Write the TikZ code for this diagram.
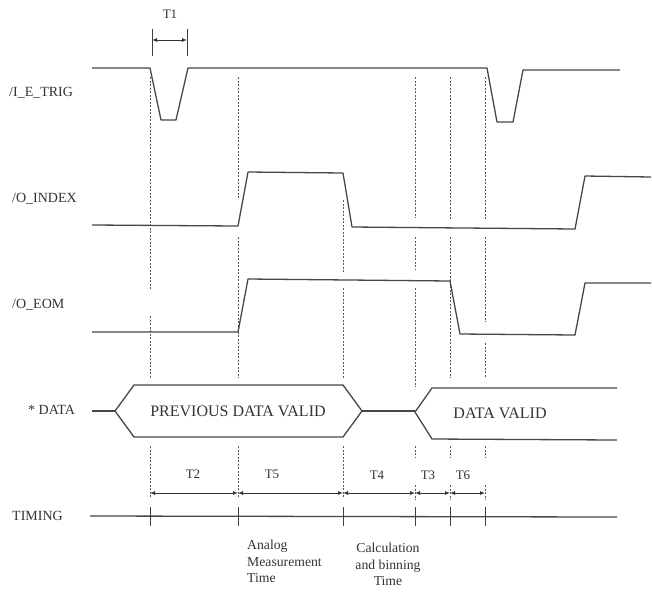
\documentclass[tikz,border=0pt]{standalone}
\usepackage{fontspec}
\setmainfont{Liberation Serif}
\usetikzlibrary{arrows.meta}
\begin{document}
\begin{tikzpicture}[x=1pt,y=-1pt,
  wave/.style={line width=1.3pt, draw=black!72, line join=round},
  guide/.style={line width=0.9pt, draw=black!65, dash pattern=on 2pt off 1.5pt},
  dimarrow/.style={line width=1pt, draw=black!80, {Latex[length=5pt,width=4pt]}-{Latex[length=5pt,width=4pt]}},
  tick/.style={line width=0.8pt, draw=black!75},
  lbl/.style={font=\fontsize{14}{16}\selectfont, anchor=west, inner sep=0pt, text=black!80},
  tlbl/.style={font=\fontsize{13}{15}\selectfont, inner sep=0pt, text=black!80},
  txt/.style={font=\fontsize{16}{18}\selectfont, inner sep=0pt, text=black!80},
  note/.style={font=\fontsize{13.7}{16.5}\selectfont, inner sep=0pt, text=black!80},
]
\useasboundingbox (0,0) rectangle (652,595);

% signal names
\node[lbl] (ltrig) at (9,93) {/I\_E\_TRIG};
\node[lbl] (lindex) at (12,199) {/O\_INDEX};
\node[lbl] (leom) at (12,305) {/O\_EOM};
\node[lbl] (ldata) at (28,410) {* DATA};
\node[lbl] (ltime) at (12,516) {TIMING};

% guides
\draw[guide] (150,77) -- (150,290) (150,316) -- (150,378) (150,446) -- (150,497);
\draw[guide] (238,77) -- (238,198) (238,237) -- (238,378) (238,446) -- (238,497);
\draw[guide] (343,200) -- (343,272) (343,288) -- (343,378) (343,446) -- (343,497);
\draw[guide] (415,77) -- (415,218) (415,237) -- (415,270) (415,288) -- (415,387) (415,446) -- (415,457) (415,485) -- (415,500);
\draw[guide] (450,77) -- (450,220) (450,237) -- (450,378) (450,446) -- (450,457) (450,485) -- (450,500);
\draw[guide] (485,77) -- (485,220) (485,237) -- (485,322) (485,343) -- (485,378) (485,446) -- (485,457) (485,485) -- (485,500);

% waveforms
\draw[wave] (92,68) -- (150,68) -- (161,120) -- (176,120) -- (188,68) -- (487,68) -- (497,122) -- (513,122) -- (523,70) -- (620,70);
\draw[wave] (92,225) -- (238,226) -- (248,172) -- (343,173) -- (352,227) -- (575,229) -- (585,176) -- (651,177);
\draw[wave] (92,332) -- (238,332) -- (248,279) -- (450,281) -- (460,334) -- (575,335) -- (585,283) -- (651,283);

% data bus
\draw[wave] (92,411) -- (115,411);
\draw[wave] (115,411) -- (134,385) -- (343,385) -- (362,411) -- (343,437) -- (134,437) -- cycle;
\draw[wave] (362,411) -- (415,411);
\draw[wave] (617,388) -- (432,388) -- (415,412) -- (432,439) -- (617,440);
\node[txt] (prev) at (238,411) {PREVIOUS DATA VALID};
\node[txt] (valid) at (500,413) {DATA VALID};

% T1
\draw[tick] (152,29) -- (152,56);
\draw[tick] (187,29) -- (187,56);
\draw[dimarrow] (152,40) -- (187,40);
\node[tlbl] (t1) at (170,14) {T1};

% timing row
\draw[wave] (90,516) -- (617,517);
\foreach \x in {150,238,343,415,450,485} \draw[tick] (\x,507) -- (\x,526);
\draw[dimarrow] (150,493) -- (238,493);
\draw[dimarrow] (238,493) -- (343,493);
\draw[dimarrow] (343,493) -- (415,493);
\draw[dimarrow] (415,493) -- (450,493);
\draw[dimarrow] (450,493) -- (485,493);
\node[tlbl] (t2) at (193,474) {T2};
\node[tlbl] (t5) at (272,474) {T5};
\node[tlbl] (t4) at (377,475) {T4};
\node[tlbl] (t3) at (428,475) {T3};
\node[tlbl] (t6) at (463,475) {T6};

% notes
\node[note, align=left, anchor=north west] (analog) at (247,540) {Analog\\Measurement\\Time};
\node[note, align=center, anchor=north] (calc) at (388,543) {Calculation\\and binning\\Time};
\end{tikzpicture}
\end{document}
